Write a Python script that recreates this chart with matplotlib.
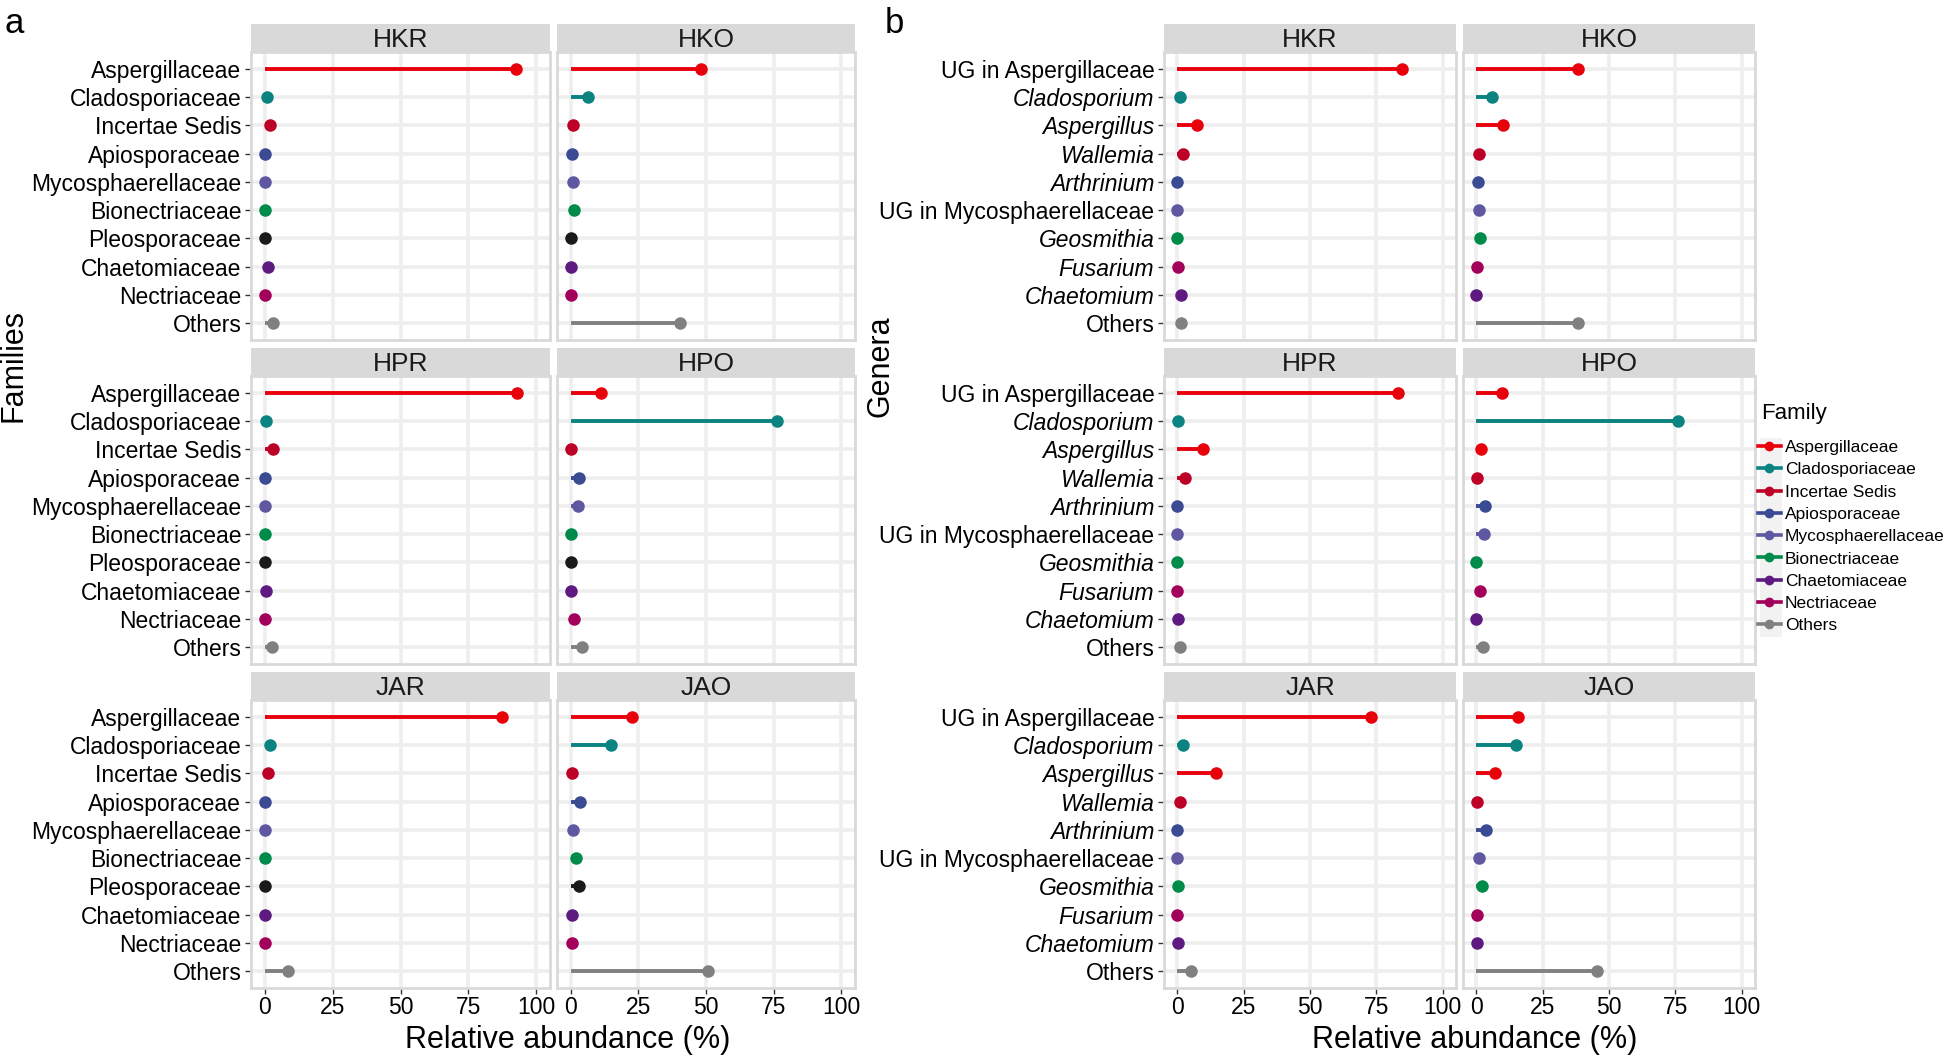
import numpy as np
import matplotlib.pyplot as plt
from matplotlib.lines import Line2D
from matplotlib.patches import Rectangle

plt.rcParams['font.family'] = ['Liberation Sans', 'DejaVu Sans']

# ---- data ----
sites = ['HKR', 'HKO', 'HPR', 'HPO', 'JAR', 'JAO']

families = ['Aspergillaceae', 'Cladosporiaceae', 'Incertae Sedis', 'Apiosporaceae',
            'Mycosphaerellaceae', 'Bionectriaceae', 'Pleosporaceae', 'Chaetomiaceae',
            'Nectriaceae', 'Others']
family_colors = ['#E8000B', '#0B8381', '#BD0026', '#3A4B93', '#5E58A0',
                 '#008B4B', '#1A1A1A', '#5E1A80', '#A3005C', '#808080']

fam_hkr = [92.4, 1.0, 2.0, 0.0, 0.0, 0.0, 0.0, 1.1, 0.1, 3.0]
fam_hko = [48.3, 6.6, 0.9, 0.7, 0.9, 1.1, 0.1, 0.1, 0.3, 40.3]
fam_hpr = [92.7, 0.6, 3.1, 0.0, 0.0, 0.0, 0.0, 0.4, 0.0, 2.9]
fam_hpo = [11.1, 76.1, 0.1, 3.1, 2.9, 0.0, 0.1, 0.1, 1.1, 4.4]
fam_jar = [87.4, 2.0, 1.3, 0.0, 0.0, 0.1, 0.0, 0.3, 0.0, 8.6]
fam_jao = [22.7, 14.9, 0.4, 3.6, 0.9, 2.0, 3.1, 0.4, 0.4, 50.7]

genera = ['UG in Aspergillaceae', 'Cladosporium', 'Aspergillus', 'Wallemia', 'Arthrinium',
          'UG in Mycosphaerellaceae', 'Geosmithia', 'Fusarium', 'Chaetomium', 'Others']
genus_italic = [False, True, True, True, True, False, True, True, True, False]
genus_family = ['Aspergillaceae', 'Cladosporiaceae', 'Aspergillaceae', 'Incertae Sedis',
                'Apiosporaceae', 'Mycosphaerellaceae', 'Bionectriaceae', 'Nectriaceae',
                'Chaetomiaceae', 'Others']

gen_hkr = [84.8, 0.9, 7.5, 2.3, 0.0, 0.0, 0.0, 0.1, 1.3, 1.4]
gen_hko = [38.5, 5.9, 10.0, 1.0, 0.7, 0.9, 1.3, 0.3, 0.0, 38.2]
gen_hpr = [83.1, 0.4, 9.8, 3.0, 0.0, 0.0, 0.0, 0.0, 0.3, 1.2]
gen_hpo = [9.7, 76.0, 1.6, 0.1, 3.2, 2.9, 0.0, 1.3, 0.0, 2.7]
gen_jar = [72.9, 2.0, 14.7, 1.2, 0.0, 0.0, 0.1, 0.0, 0.1, 5.3]
gen_jao = [15.6, 15.0, 7.2, 0.4, 3.8, 1.0, 2.3, 0.4, 0.1, 45.6]

legend_families = [f for f in families if f != 'Pleosporaceae']

fam_values = [fam_hkr, fam_hko, fam_hpr, fam_hpo, fam_jar, fam_jao]
gen_values = [gen_hkr, gen_hko, gen_hpr, gen_hpo, gen_jar, gen_jao]
fam_color = dict(zip(families, family_colors))
genus_colors = [fam_color[f] for f in genus_family]

# ---- layout (pixels) ----
W, H = 1946, 1059
fig = plt.figure(figsize=(W / 100, H / 100), dpi=100)

a_cols = [(251, 550), (557, 855)]
b_cols = [(1164, 1456), (1463, 1755)]
strip_tops = [24, 348, 672]
strip_h = 28
panel_bottoms = [340, 664, 988]

GRID = '#EEEEEE'
BORDER = '#D9D9D9'


def px_axes(left, right, top, bottom):
    return fig.add_axes([left / W, 1 - bottom / H, (right - left) / W, (bottom - top) / H])


def draw_facet(cols, r, c, title, values, colors, labels, italic):
    left, right = cols[c]
    top = strip_tops[r]
    ax = px_axes(left, right, top + strip_h, panel_bottoms[r])
    n = len(values)
    y = np.arange(n)[::-1]
    ax.set_xlim(-5, 105)
    ax.set_ylim(-0.6, n - 1 + 0.6)
    ax.set_axisbelow(True)
    ax.set_xticks([0, 25, 50, 75, 100])
    ax.set_yticks(y)
    ax.grid(True, color=GRID, lw=2.6)
    for yi, v, col in zip(y, values, colors):
        ax.plot([0, v], [yi, yi], color=col, lw=2.8, solid_capstyle='butt', zorder=3)
        ax.plot(v, yi, 'o', color=col, ms=8, zorder=4)
    for sp in ax.spines.values():
        sp.set_color(BORDER)
        sp.set_linewidth(2)
    ax.tick_params(length=4, width=1, color='#333333', labelsize=16.5, pad=3,
                   labelcolor='black')
    ax.tick_params(axis='x', pad=1.5)
    if c == 0:
        ax.set_yticklabels(labels)
        for lab, it in zip(ax.get_yticklabels(), italic):
            if it:
                lab.set_fontstyle('italic')
    else:
        ax.tick_params(left=False, labelleft=False)
    if r < 2:
        ax.tick_params(bottom=False, labelbottom=False)

    # strip
    sax = px_axes(left, right, top, top + strip_h)
    sax.set_facecolor(BORDER)
    sax.set_xticks([])
    sax.set_yticks([])
    for sp in sax.spines.values():
        sp.set_visible(False)
    sax.text(0.5, 0.42, title, ha='center', va='center', fontsize=19,
             color='#1A1A1A', transform=sax.transAxes)
    return ax


for i, site in enumerate(sites):
    r, c = divmod(i, 2)
    draw_facet(a_cols, r, c, site, fam_values[i], family_colors, families,
               [False] * len(families))
    draw_facet(b_cols, r, c, site, gen_values[i], genus_colors, genera, genus_italic)

# axis titles and panel labels
fig.text(568 / W, 1 - 1040 / H, 'Relative abundance (%)', ha='center', va='center', fontsize=22)
fig.text(1475 / W, 1 - 1040 / H, 'Relative abundance (%)', ha='center', va='center', fontsize=22)
fig.text(14 / W, 1 - 365 / H, 'Families', ha='center', va='center', rotation=90, fontsize=22)
fig.text(880 / W, 1 - 366 / H, 'Genera', ha='center', va='center', rotation=90, fontsize=22)
fig.text(4 / W, 1 - 33 / H, 'a', ha='left', va='baseline', fontsize=25)
fig.text(885 / W, 1 - 33 / H, 'b', ha='left', va='baseline', fontsize=25)

# legend
fig.text(1761 / W, 1 - 413 / H, 'Family', ha='left', va='center', fontsize=16)
fig.patches.append(Rectangle((1760 / W, 1 - 637 / H), 22 / W, 199 / H,
                             transform=fig.transFigure, facecolor='#F2F2F2',
                             edgecolor='none', zorder=0))
handles = [Line2D([0], [0], color=fam_color[f], lw=2.6, marker='o', ms=6)
           for f in legend_families]
leg = fig.legend(handles, legend_families, loc='upper left',
                 bbox_to_anchor=(1758 / W, 1 - 440 / H), frameon=False,
                 fontsize=12.5, handlelength=1.3, handletextpad=0.25,
                 labelspacing=0.41, borderpad=0, borderaxespad=0)

fig.savefig('out.png', dpi=100)
